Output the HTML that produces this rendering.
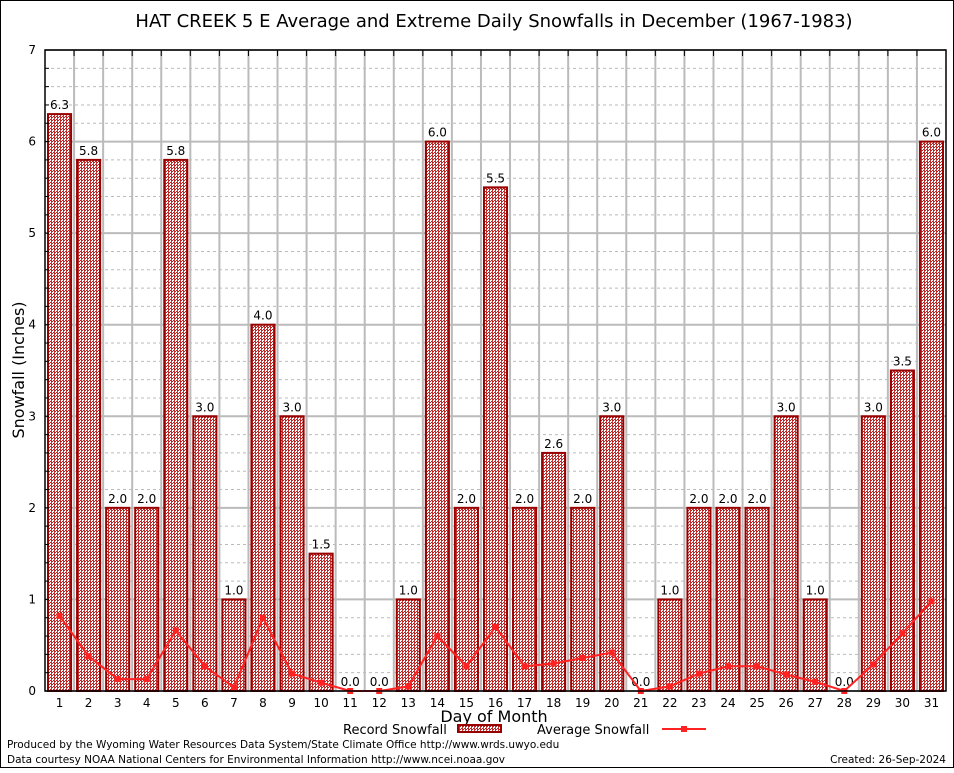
<!DOCTYPE html>
<html><head><meta charset="utf-8"><style>
body{margin:0;background:#fff;}
svg text{font-family:"DejaVu Sans","Liberation Sans",sans-serif;}
</style></head><body>
<svg id="chart" width="954" height="768" xmlns="http://www.w3.org/2000/svg">
<defs>
<pattern id="hatch" width="3" height="3" patternUnits="userSpaceOnUse">
<rect width="3" height="3" fill="#fff"/>
<rect width="2" height="1" fill="#b22"/>
<rect y="1" width="1" height="2" fill="#c33"/>
<rect x="2" y="2" width="1" height="1" fill="#b22"/>
</pattern>
</defs>
<rect x="0.5" y="0.5" width="953" height="767" fill="#fff" stroke="#000"/>
<text x="494" y="27" font-size="18" text-anchor="middle">HAT CREEK 5 E Average and Extreme Daily Snowfalls in December (1967-1983)</text>
<g id="grid"></g>
<g id="bars"></g>
<g id="line"></g>
<g id="axes"></g>
<text x="24" y="370" font-size="16" text-anchor="middle" transform="rotate(-90 24 370)">Snowfall (Inches)</text>
<text x="494" y="722" font-size="16" text-anchor="middle">Day of Month</text>
<g>
<text x="343" y="734" font-size="13">Record Snowfall</text>
<rect x="458" y="725" width="43" height="7" fill="url(#hatch)" stroke="#900" stroke-width="2"/>
<text x="537" y="734" font-size="13">Average Snowfall</text>
<line x1="662" y1="729" x2="706" y2="729" stroke="#f22" stroke-width="2"/>
<rect x="681" y="726" width="6" height="6" fill="#f22"/>
</g>
<text x="7" y="748" font-size="10.5">Produced by the Wyoming Water Resources Data System/State Climate Office http://www.wrds.uwyo.edu</text>
<text x="7" y="763" font-size="10.5">Data courtesy NOAA National Centers for Environmental Information http://www.ncei.noaa.gov</text>
<text x="946" y="763" font-size="10.5" text-anchor="end">Created:  26-Sep-2024</text>
</svg>
<script>
const days = [1,2,3,4,5,6,7,8,9,10,11,12,13,14,15,16,17,18,19,20,21,22,23,24,25,26,27,28,29,30,31];
const recordValues = [6.3,5.8,2.0,2.0,5.8,3.0,1.0,4.0,3.0,1.5,0.0,0.0,1.0,6.0,2.0,5.5,2.0,2.6,2.0,3.0,0.0,1.0,2.0,2.0,2.0,3.0,1.0,0.0,3.0,3.5,6.0];
const averageValues = [0.82,0.38,0.13,0.13,0.66,0.27,0.04,0.80,0.19,0.09,0.0,0.0,0.05,0.60,0.27,0.70,0.27,0.30,0.36,0.42,0.0,0.05,0.19,0.27,0.27,0.18,0.10,0.0,0.29,0.63,0.98];
const yTicks = [0,1,2,3,4,5,6,7];

const NS = "http://www.w3.org/2000/svg";
const L = 45, R = 946, T = 50, B = 691, yMax = 7;
const slot = (R - L) / days.length;
const xPos = i => L + slot * (i + 0.5);
const yPos = v => B - (v / yMax) * (B - T);
function mk(tag, attrs, parent) {
  const e = document.createElementNS(NS, tag);
  for (const k in attrs) e.setAttribute(k, attrs[k]);
  parent.appendChild(e);
  return e;
}
const grid = document.getElementById('grid');
const bars = document.getElementById('bars');
const line = document.getElementById('line');
const axes = document.getElementById('axes');

for (let v = 0.2; v < yMax; v += 0.2) {
  if (Math.abs(v - Math.round(v)) < 0.01) continue;
  const g = mk('line', {x1: L, x2: R, y1: yPos(v), y2: yPos(v), stroke: '#bbb', 'stroke-width': 1, 'stroke-dasharray': '3,3'}, grid);
  
  
}
yTicks.forEach(t => {
  const g = mk('line', {x1: L, x2: R, y1: yPos(t), y2: yPos(t), stroke: '#bbb', 'stroke-width': 2}, grid);
  
  
  const tx = mk('text', {x: 36, y: yPos(t) + 4, 'font-size': 12, 'text-anchor': 'end'}, axes);
  tx.textContent = t;
  
  
});
for (let i = 1; i < days.length; i++) {
  const x = L + slot * i;
  const g = mk('line', {x1: x, x2: x, y1: T, y2: B, stroke: '#bbb', 'stroke-width': 2}, grid);
  
  
  const tk = mk('line', {x1: x, x2: x, y1: T, y2: T + 6, stroke: '#000', 'stroke-width': 1}, axes);
  
  
}
for (let v = 0.2; v < yMax; v += 0.2) {
  const tk = mk('line', {x1: L, x2: L + 4, y1: yPos(v), y2: yPos(v), stroke: '#000'}, axes);
  
  
}

days.forEach((d, i) => {
  const v = recordValues[i];
  const x = xPos(i);
  const bw = slot - 6;
  if (v > 0) {
    const b = mk('rect', {x: x - bw / 2, y: yPos(v), width: bw, height: B - yPos(v), fill: 'url(#hatch)', stroke: '#900', 'stroke-width': 2}, bars);
    
    
  }
  const lb = mk('text', {x: x, y: yPos(v) - 5, 'font-size': 12, 'text-anchor': 'middle'}, bars);
  lb.textContent = v.toFixed(1);
  
  
  const xl = mk('text', {x: x, y: 707, 'font-size': 12, 'text-anchor': 'middle'}, axes);
  xl.textContent = d;
  
  
});

const pts = averageValues.map((v, i) => xPos(i) + ',' + yPos(v)).join(' ');
const pl = mk('polyline', {points: pts, fill: 'none', stroke: '#f22', 'stroke-width': 2}, line);


averageValues.forEach((v, i) => {
  const m = mk('rect', {x: xPos(i) - 3, y: yPos(v) - 3, width: 6, height: 6, fill: '#f22'}, line);
  
  
});

const frame = mk('rect', {x: L, y: T, width: R - L, height: B - T, fill: 'none', stroke: '#000', 'stroke-width': 1.5}, axes);


</script>
</body></html>
